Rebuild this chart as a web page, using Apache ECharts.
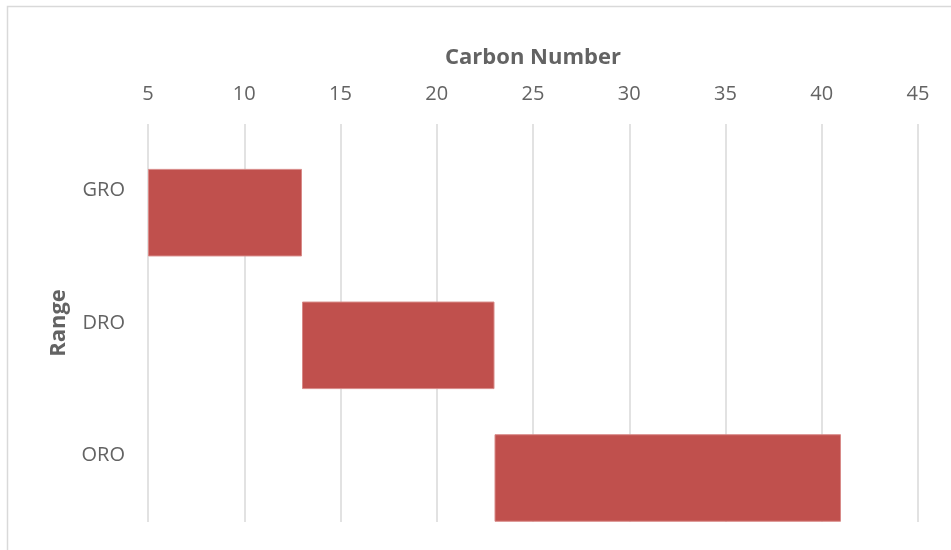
<!DOCTYPE html>
<html>
<head>
<meta charset="utf-8">
<script src="https://cdn.jsdelivr.net/npm/echarts@6/dist/echarts.min.js"></script>
<style>
  html, body { margin: 0; padding: 0; background: #ffffff; }
  #chart { width: 951px; height: 550px; }
</style>
</head>
<body>
<div id="chart"></div>
<script>
// Carbon number ranges for each fraction
const categories = ['GRO', 'DRO', 'ORO'];
const rangeStart = [5, 13, 23];
const rangeEnd = [13, 23, 41];
const xTicks = { min: 5, max: 45, interval: 5 };

const span = rangeEnd.map((v, i) => v - rangeStart[i]);
const font = '"Open Sans", "Liberation Sans", sans-serif';
const textColor = '#636363';

const chart = echarts.init(document.getElementById('chart'), null, { renderer: 'canvas' });
chart.setOption({
  animation: false,
  backgroundColor: '#ffffff',
  textStyle: { fontFamily: font },
  graphic: [{
    type: 'rect',
    shape: { x: 7.5, y: 6.5, width: 960, height: 560 },
    style: { fill: 'none', stroke: '#d9d9d9', lineWidth: 1.5 },
    silent: true
  }],
  grid: { left: 148, right: 33, top: 124, bottom: 28 },
  xAxis: {
    type: 'value',
    position: 'top',
    min: xTicks.min,
    max: xTicks.max,
    interval: xTicks.interval,
    name: 'Carbon Number',
    nameLocation: 'middle',
    nameGap: 55,
    nameTextStyle: { fontFamily: font, fontSize: 22, fontWeight: 'bold', color: textColor },
    axisLine: { show: false },
    axisTick: { show: false },
    axisLabel: { fontFamily: font, fontSize: 20, color: textColor, margin: 20 },
    splitLine: { show: true, lineStyle: { color: '#d9d9d9', width: 1.5 } }
  },
  yAxis: {
    type: 'category',
    inverse: true,
    data: categories,
    name: 'Range',
    nameLocation: 'middle',
    nameRotate: 90,
    nameGap: 78,
    nameTextStyle: { fontFamily: font, fontSize: 22, fontWeight: 'bold', color: textColor },
    axisLine: { show: false },
    axisTick: { show: false },
    axisLabel: { fontFamily: font, fontSize: 20, color: textColor, margin: 23 },
    splitLine: { show: false }
  },
  series: [
    {
      // empty slot that keeps the bars in the lower part of each band
      type: 'bar',
      stack: 'slot',
      barWidth: '66%',
      barGap: '-49%',
      data: categories.map(() => '-'),
      itemStyle: { color: 'transparent' },
      silent: true
    },
    {
      type: 'bar',
      stack: 'range',
      barWidth: '66%',
      barGap: '-49%',
      data: rangeStart,
      itemStyle: { color: 'transparent' },
      silent: true
    },
    {
      type: 'bar',
      stack: 'range',
      barWidth: '66%',
      barGap: '-49%',
      data: span,
      itemStyle: { color: '#c0504d', borderColor: '#d88a88', borderWidth: 1 }
    }
  ]
});
</script>
</body>
</html>
